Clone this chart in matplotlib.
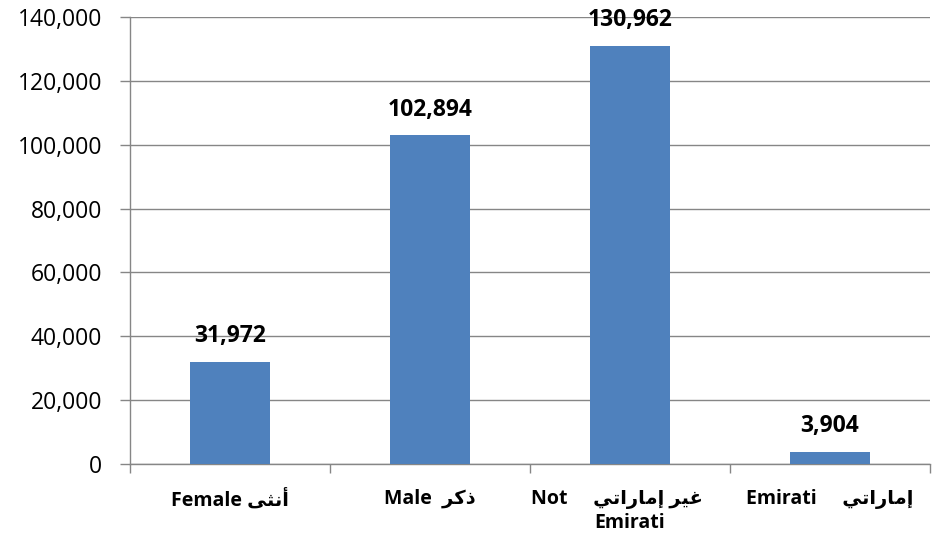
import matplotlib
matplotlib.use("Agg")
import matplotlib.pyplot as plt
from matplotlib.ticker import FuncFormatter, FixedLocator

# Data
categories = ["Female", "Male", "Not Emirati", "Emirati"]
values = [31972, 102894, 130962, 3904]

# Arabic words already shaped (presentation forms, visual order) since matplotlib has no bidi
ar_female = "\uFEF0\uFE9C\uFEE7\uFE83"                    # أنثى
ar_male = "\uFEAE\uFEDB\uFEAB"                            # ذكر
ar_emirati = "\uFEF2\uFE97\uFE8D\uFEAD\uFE8E\uFEE3\uFE87"  # إماراتي
ar_not = "\uFEAE\uFEF4\uFECF"                             # غير

tick_labels = [
    "Female " + ar_female,
    "Male  " + ar_male,
    "Not     " + ar_emirati + " " + ar_not + "     \nEmirati",
    "Emirati     " + ar_emirati,
]

bar_color = "#4F81BD"
grid_color = "#868686"
fonts = ["Open Sans", "DejaVu Sans"]

plt.rcParams["font.family"] = fonts

fig = plt.figure(figsize=(9.41, 5.45), dpi=100)
ax = fig.add_axes([0.1381, 0.1486, 0.8502, 0.8202])

x = range(len(categories))
ax.bar(x, values, width=0.4, color=bar_color, zorder=3)

for xi, v in zip(x, values):
    ax.annotate(f"{v:,}", (xi, v), xytext=(0, 14), textcoords="offset points",
                ha="center", va="baseline", fontsize=16.5, fontweight="bold",
                family=fonts)

ax.set_ylim(0, 140000)
ax.set_xlim(-0.5, len(categories) - 0.5)
ax.set_yticks(range(0, 140001, 20000))
ax.yaxis.set_major_formatter(FuncFormatter(lambda v, p: f"{int(v):,}"))
ax.grid(axis="y", color=grid_color, linewidth=1.0, zorder=0)

ax.set_xticks(list(x))
ax.set_xticklabels(tick_labels, fontsize=14, fontweight="bold", family=fonts,
                   linespacing=1.25)
ax.xaxis.set_minor_locator(FixedLocator([i - 0.5 for i in range(len(categories) + 1)]))
ax.tick_params(axis="x", which="major", length=0, pad=18)
ax.tick_params(axis="x", which="minor", length=6.5, width=1.0, color=grid_color,
               direction="out")
ax.tick_params(axis="y", length=7, width=1.0, color=grid_color, labelsize=16.5, pad=13)

for s in ["top", "right"]:
    ax.spines[s].set_visible(False)
ax.spines["left"].set_color(grid_color)
ax.spines["bottom"].set_color(grid_color)
ax.spines["left"].set_linewidth(1.0)
ax.spines["bottom"].set_linewidth(1.0)

fig.savefig("out.png", dpi=100)
